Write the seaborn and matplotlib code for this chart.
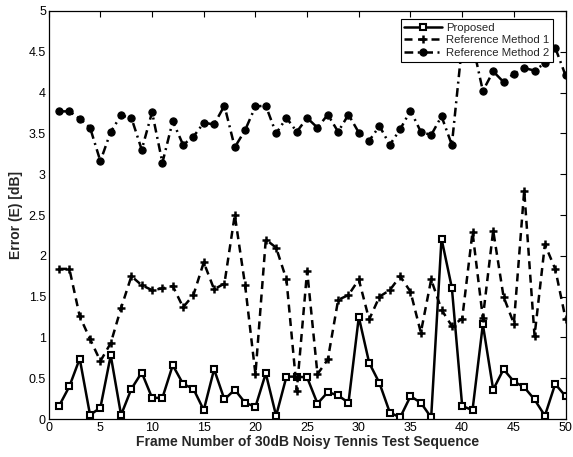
import numpy as np
import pandas as pd
import matplotlib
matplotlib.use("Agg")
import matplotlib.pyplot as plt
import seaborn as sns

# Frame indices of the test sequence
frames = list(range(1, 51))

# Error per frame [dB]
proposed = [0.16, 0.40, 0.74, 0.05, 0.14, 0.78, 0.05, 0.37, 0.57, 0.26,
            0.26, 0.66, 0.43, 0.37, 0.11, 0.61, 0.24, 0.36, 0.20, 0.15,
            0.56, 0.04, 0.52, 0.52, 0.51, 0.19, 0.33, 0.29, 0.20, 1.25,
            0.69, 0.44, 0.08, 0.02, 0.28, 0.20, 0.02, 2.21, 1.61, 0.16,
            0.11, 1.16, 0.36, 0.61, 0.46, 0.39, 0.24, 0.04, 0.43, 0.28]

ref_method_1 = [1.84, 1.84, 1.26, 0.98, 0.71, 0.93, 1.36, 1.75, 1.64, 1.58,
                1.60, 1.63, 1.37, 1.52, 1.92, 1.59, 1.66, 2.50, 1.64, 0.55,
                2.20, 2.10, 1.71, 0.35, 1.82, 0.55, 0.73, 1.46, 1.52, 1.71,
                1.22, 1.50, 1.58, 1.75, 1.56, 1.06, 1.71, 1.34, 1.14, 1.23,
                2.29, 1.24, 2.31, 1.50, 1.17, 2.80, 1.02, 2.14, 1.84, 1.23]

ref_method_2 = [3.77, 3.77, 3.68, 3.57, 3.16, 3.52, 3.72, 3.69, 3.30, 3.76,
                3.14, 3.65, 3.36, 3.46, 3.63, 3.61, 3.84, 3.33, 3.54, 3.83,
                3.84, 3.50, 3.69, 3.52, 3.69, 3.57, 3.73, 3.52, 3.73, 3.51,
                3.41, 3.59, 3.36, 3.55, 3.78, 3.52, 3.48, 3.71, 3.36, 4.60,
                4.60, 4.02, 4.26, 4.13, 4.23, 4.30, 4.27, 4.36, 4.55, 4.21]

series_names = ["Proposed", "Reference Method 1", "Reference Method 2"]
x_ticks = list(range(0, 51, 5))
y_ticks = [0, 0.5, 1, 1.5, 2, 2.5, 3, 3.5, 4, 4.5, 5]
y_tick_labels = ["0", "0.5", "1", "1.5", "2", "2.5", "3", "3.5", "4", "4.5", "5"]

sns.set_style("white")
plt.rcParams["font.family"] = ["Liberation Sans", "DejaVu Sans"]

fig = plt.figure(figsize=(5.73, 4.57), dpi=100)
ax = fig.add_axes([0.085, 0.083, 0.902, 0.893])

sns.lineplot(x=frames, y=proposed, ax=ax, color="black", lw=1.8,
             marker="s", ms=4.2, mfc="white", mec="black", mew=1.5,
             label=series_names[0])
sns.lineplot(x=frames, y=ref_method_1, ax=ax, color="black", lw=1.8,
             linestyle=(0, (3.2, 2.2)), marker="+", ms=5.5, mew=1.8,
             mec="black", mfc="black", label=series_names[1])
sns.lineplot(x=frames, y=ref_method_2, ax=ax, color="black", lw=1.8,
             linestyle=(0, (3.5, 1.8, 0.8, 1.8)), marker="o", ms=5.2,
             mfc="black", mec="black", mew=0.8, label=series_names[2])

ax.set_xlim(0, 50)
ax.set_ylim(0, 5)
ax.set_xticks(x_ticks)
ax.set_yticks(y_ticks)
ax.set_yticklabels(y_tick_labels)
ax.tick_params(direction="in", length=4, width=0.8, top=True, right=True,
               labelsize=9, colors="black", pad=2)
for spine in ax.spines.values():
    spine.set_visible(True)
    spine.set_color("black")
    spine.set_linewidth(0.9)

ax.set_xlabel("Frame Number of 30dB Noisy Tennis Test Sequence",
              fontsize=10, fontweight="bold", labelpad=1)
ax.set_ylabel("Error (E) [dB]", fontsize=10, fontweight="bold", labelpad=4)

leg = ax.legend(loc="upper right", bbox_to_anchor=(0.975, 0.98),
                borderaxespad=0, fontsize=8.2, frameon=True, fancybox=False,
                framealpha=1, edgecolor="black", handlelength=3.3,
                handletextpad=0.35, labelspacing=0.25, borderpad=0.3,
                numpoints=1)
leg.get_frame().set_linewidth(0.8)

fig.savefig("out.png", dpi=100, facecolor="white")
